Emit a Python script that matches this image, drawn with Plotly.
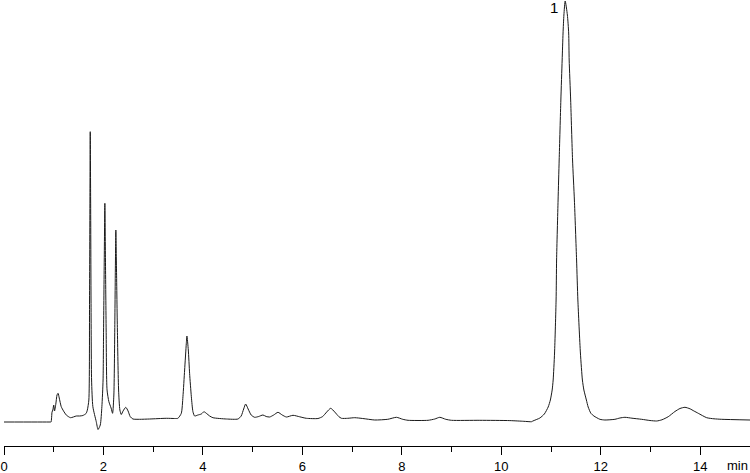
import plotly.graph_objects as go

# retention time (min) and detector signal (arbitrary units)
time_min = [
    0.000, 0.930, 0.946, 0.966, 0.982, 1.000, 1.016, 1.042, 1.066, 1.087,
    1.111, 1.151, 1.197, 1.252, 1.338, 1.453, 1.519, 1.586, 1.650, 1.676,
    1.706, 1.720, 1.728, 1.734, 1.742, 1.750, 1.761, 1.787, 1.855, 1.891,
    1.936, 1.968, 1.992, 2.002, 2.016, 2.028, 2.040, 2.054, 2.072, 2.109,
    2.153, 2.183, 2.209, 2.227, 2.239, 2.249, 2.262, 2.280, 2.304, 2.330,
    2.358, 2.394, 2.449, 2.495, 2.539, 2.592, 2.726, 2.928, 3.264, 3.431,
    3.497, 3.565, 3.598, 3.632, 3.666, 3.678, 3.706, 3.732, 3.767, 3.799,
    3.833, 3.899, 3.968, 4.020, 4.068, 4.135, 4.201, 4.471, 4.704, 4.769,
    4.819, 4.859, 4.909, 4.970, 5.040, 5.121, 5.207, 5.272, 5.342, 5.423,
    5.509, 5.594, 5.678, 5.811, 5.946, 6.080, 6.314, 6.408, 6.489, 6.569,
    6.650, 6.730, 6.785, 6.911, 7.052, 7.213, 7.455, 7.716, 7.891, 8.018,
    8.125, 8.527, 8.662, 8.763, 8.883, 8.998, 9.567, 10.171, 10.453, 10.608,
    10.634, 10.775, 10.865, 10.942, 10.986, 11.022, 11.042, 11.070, 11.101, 11.111,
    11.141, 11.163, 11.197, 11.223, 11.241, 11.258, 11.284, 11.328, 11.354, 11.364,
    11.394, 11.432, 11.469, 11.513, 11.539, 11.590, 11.630, 11.660, 11.710, 11.746,
    11.801, 11.861, 11.982, 12.082, 12.284, 12.384, 12.485, 12.626, 12.821, 12.988,
    13.123, 13.229, 13.356, 13.491, 13.592, 13.692, 13.793, 13.873, 13.960, 14.129,
    14.276, 14.431, 15.000,
]
signal = [
    0.0, 0.0, 0.0, 10.0, 12.0, 17.0, 11.0, 18.0, 27.0, 28.7,
    24.0, 15.3, 11.0, 7.0, 4.3, 6.0, 6.0, 6.5, 8.5, 12.0,
    22.0, 122.0, 222.0, 290.3, 222.0, 122.0, 42.0, 15.3, 0.3, -7.5,
    -3.0, 15.3, 42.0, 92.0, 162.0, 218.7, 162.0, 92.0, 32.0, 20.3,
    14.0, 8.7, 27.0, 92.0, 152.0, 192.0, 152.0, 92.0, 32.0, 12.0,
    7.5, 11.0, 14.7, 11.0, 5.3, 3.0, 2.7, 3.0, 3.7, 3.5,
    3.7, 8.7, 25.3, 52.0, 78.7, 86.0, 72.0, 48.7, 25.3, 10.3,
    6.0, 7.0, 8.0, 10.3, 8.7, 6.0, 4.3, 3.0, 3.0, 6.0,
    13.0, 18.0, 13.0, 7.0, 4.7, 5.5, 7.0, 5.5, 5.0, 7.0,
    9.7, 7.0, 5.0, 6.7, 5.2, 3.7, 3.5, 5.5, 10.0, 13.7,
    10.0, 5.5, 3.7, 3.7, 4.3, 3.5, 2.0, 2.7, 4.7, 2.7,
    1.7, 1.7, 3.0, 4.7, 2.7, 1.7, 1.7, 1.4, 0.7, 0.3,
    1.0, 4.0, 8.0, 15.0, 22.0, 32.0, 42.0, 69.0, 122.0, 162.0,
    222.0, 262.0, 322.0, 362.0, 389.0, 407.0, 421.0, 407.0, 389.0, 362.0,
    322.0, 262.0, 222.0, 162.0, 122.0, 69.0, 42.0, 32.0, 22.0, 15.0,
    8.7, 6.0, 2.7, 2.0, 2.7, 4.0, 4.7, 3.8, 2.7, 1.5,
    1.0, 2.2, 5.3, 10.5, 13.5, 14.7, 13.2, 11.0, 8.7, 4.3,
    3.2, 2.7, 2.0,
]

major_ticks = [0, 2, 4, 6, 8, 10, 12, 14]
peak_label = "1"
peak_label_pos = (11.06, 415)

fig = go.Figure()
fig.add_trace(go.Scatter(
    x=time_min, y=signal, mode="lines",
    line=dict(color="#1a1a1a", width=1, shape="spline", smoothing=0.6),
    hoverinfo="skip", showlegend=False,
))

fig.add_annotation(x=peak_label_pos[0], y=peak_label_pos[1], text=peak_label,
                   showarrow=False, xanchor="center", yanchor="middle",
                   font=dict(family="Liberation Sans", size=15, color="black"))
fig.add_annotation(x=14.74, y=0, xref="x", yref="paper", text="min",
                   showarrow=False, xanchor="center", yanchor="middle", yshift=-19.5,
                   borderpad=0,
                   font=dict(family="Liberation Sans", size=13, color="black"))

fig.update_layout(
    width=750, height=473, autosize=False,
    margin=dict(l=4, r=0, t=0, b=27),
    plot_bgcolor="white", paper_bgcolor="white",
    xaxis=dict(
        range=[0, 15], showgrid=False, zeroline=False,
        showline=True, linecolor="black", linewidth=1,
        tickvals=major_ticks, ticks="outside", ticklen=8, tickwidth=1, tickcolor="black",
        tickfont=dict(family="Liberation Sans", size=13, color="black"),
        minor=dict(dtick=1, tick0=0, ticks="outside", ticklen=5, tickwidth=1,
                   tickcolor="black", showgrid=False),
    ),
    yaxis=dict(range=[-24, 422], visible=False),
)

# drop the browser's default page margin so the 750x473 figure fills the window
fig.write_html("out.html", config={"displayModeBar": False},
               post_script="document.body.style.margin='0';document.body.style.overflow='hidden';")
